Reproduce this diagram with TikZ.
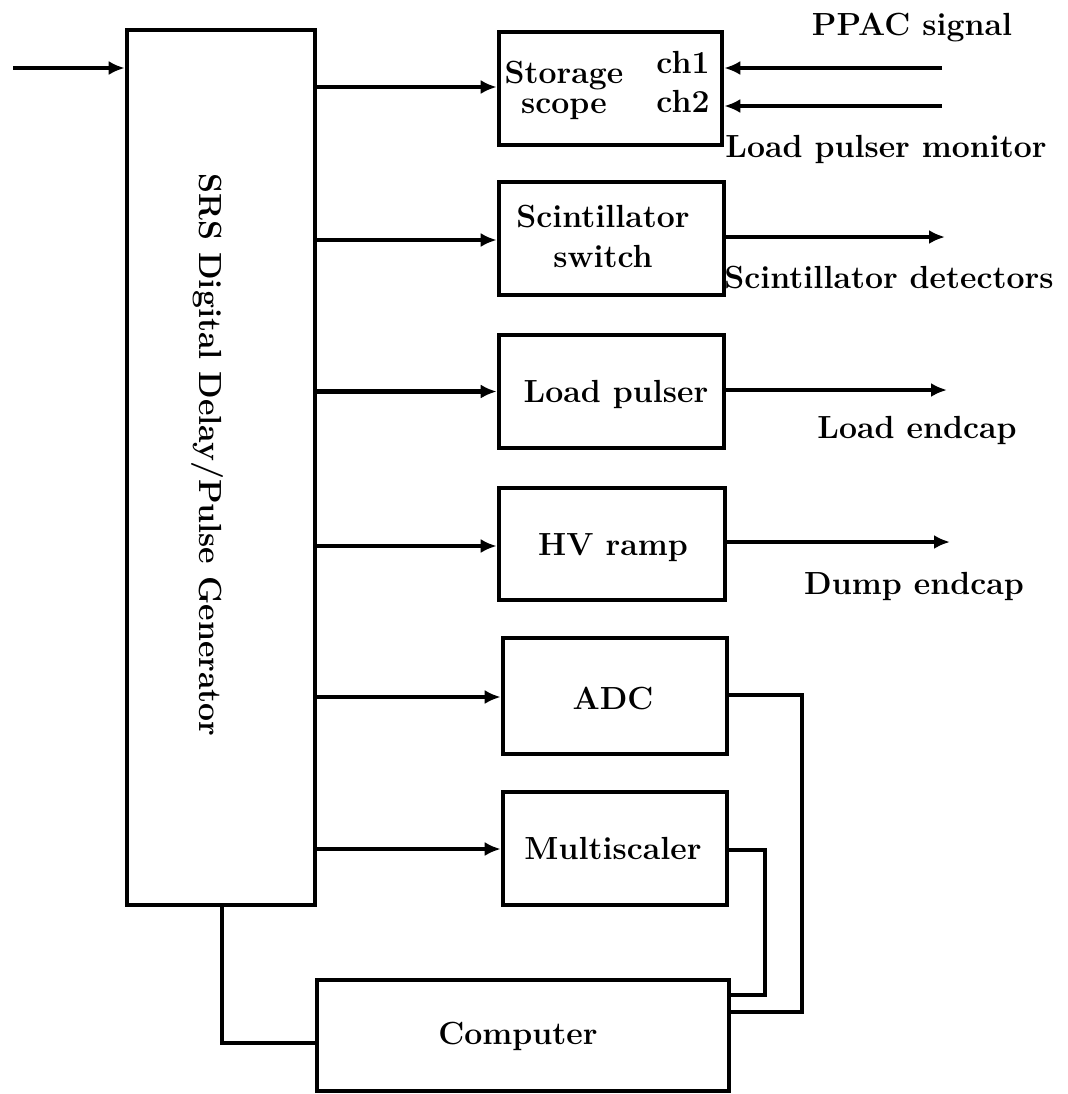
\documentclass[tikz,border=0pt]{standalone}
\usetikzlibrary{arrows.meta}
\newcommand{\labfont}{\fontsize{16}{15}\selectfont\bfseries}
\begin{document}
\begin{tikzpicture}[x=0.5pt,y=-0.5pt,
  box/.style={draw, line width=2.3pt, inner sep=0pt},
  wire/.style={line width=2.4pt},
  arr/.style={wire, -{Latex[length=8pt,width=7pt]}},
  lab/.style={inner sep=0pt, font=\labfont, anchor=base},
  labl/.style={inner sep=0pt, font=\labfont, anchor=base west}]
\useasboundingbox (0,0) rectangle (1068,1094);
% boxes
\node[box, minimum width=94pt, minimum height=437.5pt] (srs) at (221,467.5) {};
\node[inner sep=0pt, font=\labfont, rotate=-90] (srstxt) at (207,455) {SRS Digital Delay/Pulse Generator};
\node[box, minimum width=111.5pt, minimum height=56.5pt] (scope) at (610.5,88.5) {};
\node[box, minimum width=112.5pt, minimum height=56.5pt] (scint) at (611.5,238.5) {};
\node[box, minimum width=112.5pt, minimum height=56.5pt] (load) at (611.5,391.5) {};
\node[box, minimum width=113pt, minimum height=56pt] (hv) at (612,544) {};
\node[box, minimum width=112pt, minimum height=58pt] (adc) at (615,696) {};
\node[box, minimum width=112pt, minimum height=56.5pt] (multi) at (615,848.5) {};
\node[box, minimum width=206pt, minimum height=55.5pt] (comp) at (523,1035.5) {};
% box texts
\node[lab] (t1) at (564,83) {Storage};
\node[lab] (t2) at (564,113) {scope};
\node[lab] (ch1) at (683,73) {ch1};
\node[lab] (ch2) at (683,112) {ch2};
\node[lab] (t3) at (603,227) {Scintillator};
\node[lab] (t4) at (603,267) {switch};
\node[lab] (t5) at (616,402) {Load pulser};
\node[lab] (t6) at (613,555) {HV ramp};
\node[lab] (t7) at (613,709) {ADC};
\node[lab] (t8) at (613,859) {Multiscaler};
\node[lab] (t9) at (518,1044) {Computer};
% outside labels
\node[lab] (ppac) at (912,35) {PPAC signal};
\node[labl] (lpm) at (725,157) {Load pulser monitor};
\node[labl] (scdet) at (724,288) {Scintillator detectors};
\node[lab] (lend) at (917,438) {Load endcap};
\node[lab] (dend) at (914,594) {Dump endcap};
% free ends
\coordinate (in) at (13,68);
\coordinate (c1) at (942,68);
\coordinate (c2) at (942,106);
\coordinate (o1) at (945,237);
\coordinate (o2) at (947,390);
\coordinate (o3) at (950,542);
% arrows
\draw[arr] (in) -- (in -| srs.west);
\draw[arr] (srs.east |- 0,87) -- (scope.west |- 0,87);
\draw[arr] (srs.east |- 0,240) -- (scint.west |- 0,240);
\draw[arr] (srs.east |- load.west) -- (load.west);
\draw[arr] (srs.east |- 0,546) -- (hv.west |- 0,546);
\draw[arr] (srs.east |- 0,697) -- (adc.west |- 0,697);
\draw[arr] (srs.east |- 0,849) -- (multi.west |- 0,849);
\draw[arr] (c1) -- (c1 -| scope.east);
\draw[arr] (c2) -- (c2 -| scope.east);
\draw[arr] (o1 -| scint.east) -- (o1);
\draw[arr] (o2 -| load.east) -- (o2);
\draw[arr] (o3 -| hv.east) -- (o3);
% wires to computer
\draw[wire] (adc.east |- 0,695) -- (802,695) -- (802,1012) -- (comp.east |- 0,1012);
\draw[wire] (multi.east |- 0,850) -- (765,850) -- (765,995) -- (comp.east |- 0,995);
\draw[wire] (srs.south -| 222,0) -- (222,1043) -- (comp.west |- 0,1043);
\end{tikzpicture}
\end{document}
